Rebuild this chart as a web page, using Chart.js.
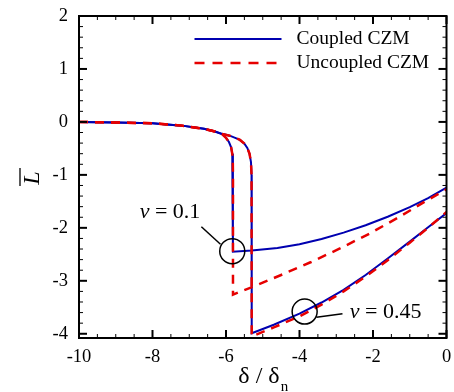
<!DOCTYPE html>
<html lang="en">
<head>
    <meta charset="UTF-8">
    <title>Coupled vs Uncoupled CZM</title>
    <script src="https://cdn.jsdelivr.net/npm/chart.js"></script>
    <style>
        body { margin: 0; background: #fff; }
        #wrap { width: 454px; height: 392px; }
    </style>
</head>
<body>

<div id="wrap"><canvas id="czmChart"></canvas></div>

<script>
    // softening branch shared by all curves (before the branches split)
    const preX = [-10, -9, -8, -7.2, -6.6, -6.3];
    const preY = [0, -0.01, -0.025, -0.07, -0.13, -0.18];

    // knee + vertical drop, nu = 0.1
    const knee01X = [-6.1, -6.0, -5.92, -5.86, -5.83, -5.815, -5.81];
    const knee01Y = [-0.235, -0.3, -0.38, -0.48, -0.6, -0.75, -1.0];

    // knee + vertical drop, nu = 0.45
    const knee045X = [-6.1, -5.9, -5.75, -5.62, -5.5, -5.42, -5.36, -5.32, -5.305];
    const knee045Y = [-0.225, -0.26, -0.3, -0.34, -0.41, -0.49, -0.6, -0.76, -1.0];

    // post-drop branches
    const coupled01X = [-5.81, -5.3, -4.6, -4.0, -3.4, -2.8, -2.2, -1.6, -1.0, -0.5, 0];
    const coupled01Y = [-2.45, -2.43, -2.38, -2.31, -2.21, -2.09, -1.95, -1.79, -1.61, -1.44, -1.24];
    const uncoupled01X = [-5.81, -5.26, -4.5, -3.7, -2.9, -2.1, -1.3, -0.6, 0];
    const uncoupled01Y = [-3.26, -3.11, -2.89, -2.65, -2.39, -2.11, -1.8, -1.51, -1.27];
    const coupled045X = [-5.3, -4.7, -4.0, -3.4, -2.8, -2.2, -1.6, -1.0, -0.5, 0];
    const coupled045Y = [-3.99, -3.83, -3.62, -3.41, -3.17, -2.89, -2.58, -2.26, -1.99, -1.72];
    const uncoupled045X = [-5.3, -4.7, -4.0, -3.4, -2.8, -2.2, -1.6, -1.0, -0.5, 0];
    const uncoupled045Y = [-4.05, -3.88, -3.67, -3.45, -3.2, -2.92, -2.61, -2.28, -2.0, -1.7];

    const xTicks = [-10, -8, -6, -4, -2, 0];
    const yTicks = [-4, -3, -2, -1, 0, 1, 2];
    const seriesLabels = ['Coupled CZM', 'Uncoupled CZM'];

    // callouts: circle centre, label anchor, leader line (data coords)
    const callouts = [
        { nu: '0.1',  cx: -5.83, cy: -2.44, tx: -8.35, ty: -1.70, from: [-6.67, -1.98], to: [-6.15, -2.31] },
        { nu: '0.45', cx: -3.86, cy: -3.58, tx: -2.63, ty: -3.60, from: [-3.54, -3.69], to: [-2.83, -3.62] }
    ];

    const BLUE = '#0000b0';
    const RED = '#e60000';
    const SERIF = "'Liberation Serif', 'Times New Roman', serif";

    function pts(xs, ys) {
        return xs.map((x, i) => ({ x: x, y: ys[i] }));
    }

    const coupledLine = { borderColor: BLUE, borderWidth: 2, pointRadius: 0, tension: 0, fill: false, order: 1 };
    const uncoupledLine = { borderColor: RED, borderWidth: 2.5, borderDash: [9, 7], pointRadius: 0, tension: 0, fill: false, order: 0 };

    const datasets = [
        Object.assign({ label: seriesLabels[0], data: pts(preX.concat(knee01X, coupled01X), preY.concat(knee01Y, coupled01Y)) }, coupledLine),
        Object.assign({ label: seriesLabels[0], data: pts(preX.concat(knee045X, coupled045X), preY.concat(knee045Y, coupled045Y)) }, coupledLine),
        Object.assign({ label: seriesLabels[1], data: pts(preX.concat(knee01X, uncoupled01X), preY.concat(knee01Y, uncoupled01Y)) }, uncoupledLine),
        Object.assign({ label: seriesLabels[1], data: pts(preX.concat(knee045X, uncoupled045X), preY.concat(knee045Y, uncoupled045Y)) }, uncoupledLine)
    ];

    function line(ctx, x1, y1, x2, y2) {
        ctx.beginPath();
        ctx.moveTo(x1, y1);
        ctx.lineTo(x2, y2);
        ctx.stroke();
    }

    // tick-label overflow padding would push the plot area in; layout.padding handles it instead
    function noLabelPadding(s) {
        s.paddingTop = 0;
        s.paddingBottom = 0;
        s.paddingLeft = 0;
        s.paddingRight = 0;
    }

    const decorations = {
        id: 'decorations',
        afterDraw(chart) {
            const ctx = chart.ctx;
            const a = chart.chartArea;
            const sx = chart.scales.x, sy = chart.scales.y;
            const px = v => sx.getPixelForValue(v);
            const py = v => sy.getPixelForValue(v);
            ctx.save();
            ctx.strokeStyle = '#000';
            ctx.fillStyle = '#000';

            // minor ticks, inward on all sides
            ctx.lineWidth = 1;
            for (let i = 0; i <= 20; i++) {
                const v = -10 + i * 0.5;
                if (i % 4 === 0) continue;
                line(ctx, px(v), a.bottom, px(v), a.bottom - 4);
                line(ctx, px(v), a.top, px(v), a.top + 4);
            }
            for (let i = 0; i <= 30; i++) {
                const v = -4 + i * 0.2;
                if (i % 5 === 0) continue;
                line(ctx, a.left, py(v), a.left + 4, py(v));
                line(ctx, a.right, py(v), a.right - 4, py(v));
            }
            // major ticks
            ctx.lineWidth = 2;
            xTicks.forEach(v => {
                line(ctx, px(v), a.bottom, px(v), a.bottom - 8);
                line(ctx, px(v), a.top, px(v), a.top + 8);
            });
            yTicks.forEach(v => {
                line(ctx, a.left, py(v), a.left + 8, py(v));
                line(ctx, a.right, py(v), a.right - 8, py(v));
            });
            // frame
            ctx.strokeRect(a.left, a.top, a.right - a.left, a.bottom - a.top);

            // callouts
            ctx.lineWidth = 1.5;
            callouts.forEach(c => {
                ctx.beginPath();
                ctx.arc(px(c.cx), py(c.cy), 12.5, 0, Math.PI * 2);
                ctx.stroke();
                line(ctx, px(c.from[0]), py(c.from[1]), px(c.to[0]), py(c.to[1]));
                ctx.textBaseline = 'middle';
                ctx.textAlign = 'left';
                ctx.font = 'italic 22px ' + SERIF;
                ctx.fillText('\u03bd', px(c.tx), py(c.ty));
                const w = ctx.measureText('\u03bd').width;
                ctx.font = '22px ' + SERIF;
                ctx.fillText(' = ' + c.nu, px(c.tx) + w, py(c.ty));
            });

            // legend inside plot, top right
            const rows = [
                { label: seriesLabels[0], color: BLUE, dash: [], width: 2, y: a.top + 23 },
                { label: seriesLabels[1], color: RED, dash: [10, 8], width: 2.5, y: a.top + 47 }
            ];
            ctx.font = '19.5px ' + SERIF;
            ctx.textBaseline = 'middle';
            rows.forEach(r => {
                ctx.strokeStyle = r.color;
                ctx.lineWidth = r.width;
                ctx.setLineDash(r.dash);
                line(ctx, a.right - 252, r.y, a.right - 165, r.y);
                ctx.setLineDash([]);
                ctx.fillStyle = '#000';
                ctx.fillText(r.label, a.right - 150, r.y);
            });

            // y-axis title: L with overbar, rotated
            ctx.save();
            ctx.translate(31, 178);
            ctx.rotate(-Math.PI / 2);
            ctx.font = 'italic 24px ' + SERIF;
            ctx.textAlign = 'center';
            ctx.textBaseline = 'alphabetic';
            ctx.fillText('L', 0, 8);
            ctx.strokeStyle = '#000';
            ctx.lineWidth = 1.3;
            line(ctx, -8, -11, 10, -11);
            ctx.restore();

            // x-axis title: delta / delta_n
            const cx = (a.left + a.right) / 2;
            ctx.font = '24px ' + SERIF;
            ctx.textAlign = 'left';
            ctx.textBaseline = 'alphabetic';
            const main = '\u03b4 / \u03b4';
            const mw = ctx.measureText(main).width;
            ctx.font = '15px ' + SERIF;
            const nw = ctx.measureText('n').width;
            const x0 = cx - (mw + nw) / 2;
            ctx.font = '24px ' + SERIF;
            ctx.fillText(main, x0, 383);
            ctx.font = '15px ' + SERIF;
            ctx.fillText('n', x0 + mw + 1, 391);

            ctx.restore();
        }
    };

    const ctx = document.getElementById('czmChart').getContext('2d');

    const czmChart = new Chart(ctx, {
        type: 'line',
        data: { datasets: datasets },
        options: {
            responsive: true,
            maintainAspectRatio: false,
            animation: false,
            layout: { padding: { top: 16, right: 7.5, left: 0, bottom: 0 } },
            scales: {
                x: {
                    type: 'linear',
                    min: -10,
                    max: 0,
                    grid: { display: false, drawTicks: false },
                    border: { display: false },
                    afterBuildTicks: s => { s.ticks = xTicks.map(v => ({ value: v })); },
                    afterFit: s => { s.height = 54; noLabelPadding(s); },
                    ticks: {
                        color: '#000',
                        padding: 8,
                        maxRotation: 0,
                        font: { family: SERIF, size: 18.5 },
                        callback: v => String(v)
                    }
                },
                y: {
                    min: -4.08,
                    max: 2,
                    grid: { display: false, drawTicks: false },
                    border: { display: false },
                    afterBuildTicks: s => { s.ticks = yTicks.map(v => ({ value: v })); },
                    afterFit: s => { s.width = 79; noLabelPadding(s); },
                    ticks: {
                        color: '#000',
                        padding: 11,
                        font: { family: SERIF, size: 18.5 },
                        callback: v => String(v)
                    }
                }
            },
            plugins: {
                legend: { display: false },
                tooltip: { enabled: false }
            }
        },
        plugins: [decorations]
    });
</script>

</body>
</html>
